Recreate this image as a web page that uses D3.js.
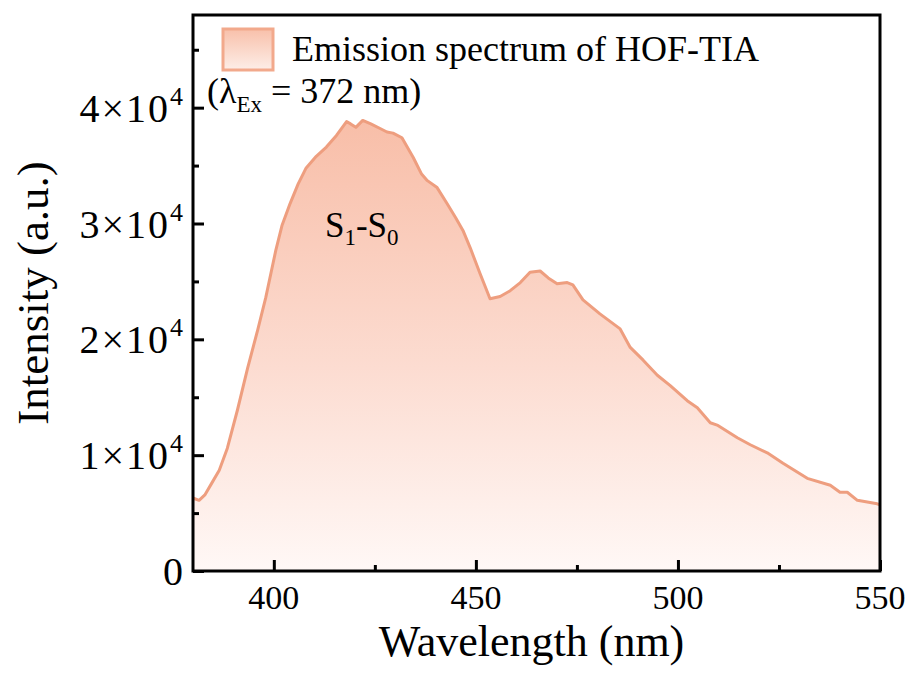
<!DOCTYPE html>
<html>
<head>
<meta charset="utf-8">
<script src="https://cdn.jsdelivr.net/npm/d3@7"></script>
<style>
  body { margin: 0; background: #fff; }
  svg { display: block; font-family: "Liberation Serif", "Times New Roman", serif; }
</style>
</head>
<body>
<div id="chart"></div>
<script>
// Emission spectrum (nm, counts)
const wavelength = [380, 381.5, 383, 384.5, 386.5, 388.5, 391, 393.5, 396, 398, 400.5, 402, 404, 406, 408, 410.5,
  413, 415.5, 418, 419, 420.3, 422, 424, 426.3, 428, 429.5, 431.7, 434.5, 436.5, 438, 440.4, 442.9, 445, 446.8,
  448.6, 451, 453.5, 456, 458.5, 461, 463.4, 465.9, 467.9, 470.1, 472.6, 474, 476.5, 480.7, 485.7, 488.2, 491.4,
  494.9, 498.1, 502.3, 504.8, 508, 509.7, 514.7, 517.9, 522.1, 526, 532, 537.7, 540.1, 541.9, 544.4, 549.3, 550];
const intensity = [6300, 6100, 6600, 7500, 8700, 10600, 13900, 17500, 20800, 23600, 27700, 29800, 31700, 33400, 34800, 35800,
  36600, 37600, 38800, 38600, 38300, 38900, 38600, 38200, 37900, 37800, 37400, 35700, 34300, 33700, 33100, 31700, 30500, 29400,
  27900, 25700, 23500, 23700, 24200, 24900, 25800, 25900, 25300, 24800, 24900, 24700, 23400, 22200, 20900, 19300, 18200,
  16900, 16000, 14700, 14100, 12800, 12600, 11500, 10900, 10200, 9300, 8000, 7400, 6800, 6800, 6100, 5800, 5700];

const xMajor = [400, 450, 500, 550];
const xMinor = [425, 475, 525];
const yMajor = [0, 10000, 20000, 30000, 40000];
const yMinor = [5000, 15000, 25000, 35000, 45000];

const W = 911, H = 675;
const margin = { top: 15, right: 31, bottom: 104, left: 193 };
const width = W - margin.left - margin.right;
const height = H - margin.top - margin.bottom;

const data = wavelength.map((w, i) => ({ w: w, v: intensity[i] }));

const svg = d3.select("#chart").append("svg")
  .attr("width", W)
  .attr("height", H);

const x = d3.scaleLinear().domain([380, 550]).range([0, width]);
const y = d3.scaleLinear().domain([0, 48000]).range([height, 0]);

const defs = svg.append("defs");
const grad = defs.append("linearGradient")
  .attr("id", "fillGrad")
  .attr("gradientUnits", "userSpaceOnUse")
  .attr("x1", 0).attr("x2", 0)
  .attr("y1", y(39000)).attr("y2", y(0));
grad.append("stop").attr("offset", "0%").attr("stop-color", "#f8bea8");
grad.append("stop").attr("offset", "55%").attr("stop-color", "#fcdcd1");
grad.append("stop").attr("offset", "100%").attr("stop-color", "#fff8f6");

const legGrad = defs.append("linearGradient")
  .attr("id", "legGrad")
  .attr("x1", 0).attr("x2", 0).attr("y1", 0).attr("y2", 1);
legGrad.append("stop").attr("offset", "0%").attr("stop-color", "#f8c0aa");
legGrad.append("stop").attr("offset", "100%").attr("stop-color", "#fdeee8");

defs.append("clipPath").attr("id", "clip")
  .append("rect").attr("width", width).attr("height", height);

const g = svg.append("g")
  .attr("transform", `translate(${margin.left},${margin.top})`);

const plot = g.append("g").attr("clip-path", "url(#clip)");

plot.append("path")
  .datum(data)
  .attr("fill", "url(#fillGrad)")
  .attr("d", d3.area().x(d => x(d.w)).y0(y(0)).y1(d => y(d.v)));

plot.append("path")
  .datum(data)
  .attr("fill", "none")
  .attr("stroke", "#ee9e7f")
  .attr("stroke-width", 3)
  .attr("stroke-linejoin", "round")
  .attr("d", d3.line().x(d => x(d.w)).y(d => y(d.v)));

// frame
g.append("rect")
  .attr("width", width)
  .attr("height", height)
  .attr("fill", "none")
  .attr("stroke", "#000")
  .attr("stroke-width", 3);

// x axis
const xAxis = g.append("g").attr("transform", `translate(0,${height})`);
xAxis.call(d3.axisBottom(x).tickValues(xMajor).tickSize(-11).tickPadding(0).tickFormat(""))
  .call(a => a.select(".domain").remove());
xAxis.append("g")
  .call(d3.axisBottom(x).tickValues(xMinor).tickSize(-6).tickFormat(""))
  .call(a => a.select(".domain").remove());
xAxis.selectAll("line").attr("stroke", "#000").attr("stroke-width", 3);

g.selectAll("text.xlab")
  .data(xMajor)
  .join("text")
  .attr("class", "xlab")
  .attr("x", d => x(d))
  .attr("y", height + 38)
  .attr("text-anchor", "middle")
  .style("font-size", "34px")
  .text(d => d);

// y axis
const yAxis = g.append("g");
yAxis.call(d3.axisLeft(y).tickValues(yMajor).tickSize(-11).tickFormat(""))
  .call(a => a.select(".domain").remove());
yAxis.append("g")
  .call(d3.axisLeft(y).tickValues(yMinor).tickSize(-6).tickFormat(""))
  .call(a => a.select(".domain").remove());
yAxis.selectAll("line").attr("stroke", "#000").attr("stroke-width", 3);

const yl = g.selectAll("text.ylab")
  .data(yMajor)
  .join("text")
  .attr("class", "ylab")
  .attr("x", -10)
  .attr("y", d => y(d) + 14)
  .attr("text-anchor", "end")
  .style("font-size", "40px");
yl.filter(d => d === 0).text("0");
yl.filter(d => d !== 0).each(function(d) {
  const t = d3.select(this);
  t.append("tspan").style("letter-spacing", "2px").text(`${d / 10000}×10`);
  t.append("tspan").attr("dy", -17).style("font-size", "26px").text("4");
});

// axis titles
g.append("text")
  .attr("x", width / 2 - 5)
  .attr("y", height + 85)
  .attr("text-anchor", "middle")
  .style("font-size", "44px")
  .text("Wavelength (nm)");

svg.append("text")
  .attr("transform", `translate(48,${293}) rotate(-90)`)
  .attr("text-anchor", "middle")
  .style("font-size", "45px")
  .text("Intensity (a.u.)");

// legend
g.append("rect")
  .attr("x", 30).attr("y", 14)
  .attr("width", 50).attr("height", 41)
  .attr("fill", "url(#legGrad)")
  .attr("stroke", "#f2a98c")
  .attr("stroke-width", 3);

g.append("text")
  .attr("x", 99).attr("y", 46)
  .style("font-size", "36px")
  .text("Emission spectrum of HOF-TIA");

const ex = g.append("text")
  .attr("x", 14).attr("y", 88)
  .style("font-size", "36px");
ex.append("tspan").text("(λ");
ex.append("tspan").attr("dy", 9).style("font-size", "23px").text("Ex");
ex.append("tspan").attr("dy", -9).text(" = 372 nm)");

// peak label
const s = g.append("text")
  .attr("x", 132).attr("y", 222)
  .style("font-size", "35px");
s.append("tspan").text("S");
s.append("tspan").attr("dy", 8).style("font-size", "23px").text("1");
s.append("tspan").attr("dy", -8).text("-S");
s.append("tspan").attr("dy", 8).style("font-size", "23px").text("0");
</script>
</body>
</html>
